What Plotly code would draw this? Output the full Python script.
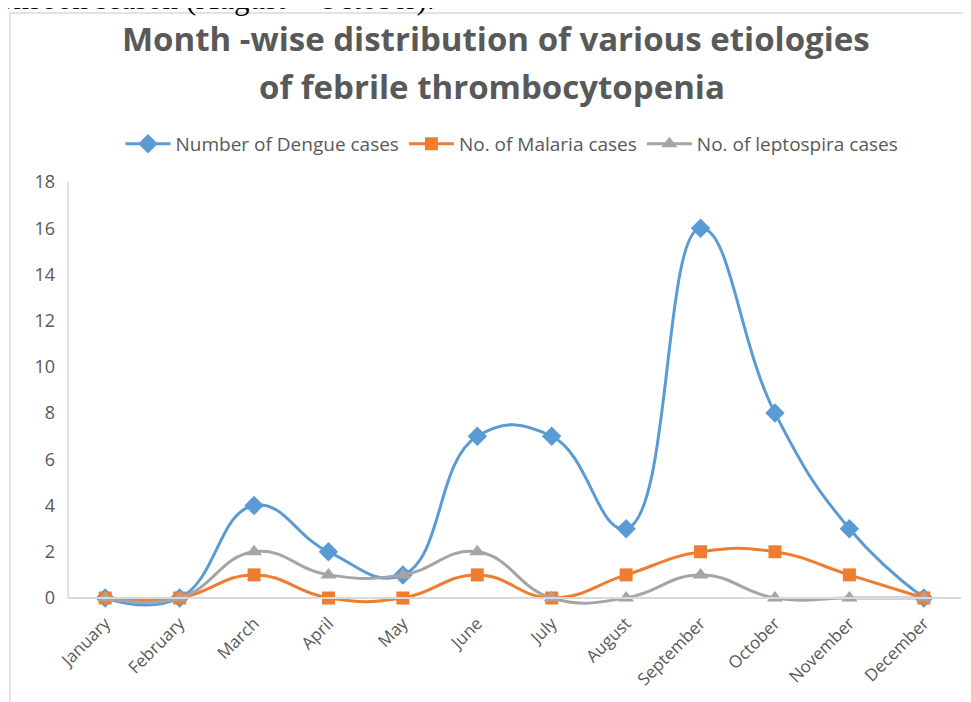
import plotly.graph_objects as go

months = ["January", "February", "March", "April", "May", "June", "July",
          "August", "September", "October", "November", "December"]
dengue = [0, 0, 4, 2, 1, 7, 7, 3, 16, 8, 3, 0]
malaria = [0, 0, 1, 0, 0, 1, 0, 1, 2, 2, 1, 0]
lepto = [0, 0, 2, 1, 1, 2, 0, 0, 1, 0, 0, 0]
y_ticks = [0, 2, 4, 6, 8, 10, 12, 14, 16, 18]

OFF = 8  # default page body margin
W, H = 971 - OFF, 702 - OFF
L, T = 68 - OFF, 182 - OFF
pw = 893
UNIT_PX = 416 / 18.0          # pixels per y unit (0 at page 598, 18 at page 182)
EXTRA = 10                    # pixels of plot area below the zero line
ph = 416 + EXTRA
R = W - L - pw
B = H - T - ph
YMIN = -EXTRA / UNIT_PX


def px_x(p):
    return (p - OFF - L) / pw


def px_y(p):
    return (H - B - (p - OFF)) / ph


fig = go.Figure()
series = [
    ("Number of Dengue cases", dengue, "#5B9BD5", "diamond", 15),
    ("No. of Malaria cases", malaria, "#ED7D31", "square", 13),
    ("No. of leptospira cases", lepto, "#A5A5A5", "triangle-up", 14),
]
for name, vals, col, sym, ms in series:
    fig.add_trace(go.Scatter(
        x=months, y=vals, name=name, mode="lines+markers",
        line=dict(color=col, width=3, shape="spline", smoothing=1.3),
        marker=dict(symbol=sym, size=ms, color=col),
        cliponaxis=False,
    ))

fig.update_layout(
    width=W, height=H,
    margin=dict(l=L, r=R, t=T, b=B, autoexpand=False),
    paper_bgcolor="white", plot_bgcolor="white",
    font=dict(family="Open Sans", color="#595959"),
    legend=dict(
        orientation="h", x=px_x(512), xanchor="center",
        y=px_y(144), yanchor="middle",
        font=dict(size=19, color="#595959"),
        itemwidth=45, traceorder="normal",
    ),
    xaxis=dict(
        type="category", tickangle=-45, showgrid=False,
        showline=True, linecolor="#D9D9D9", linewidth=1.5,
        tickfont=dict(size=17, color="#595959"), ticks="",
        ticklabelstandoff=8,
        range=[-0.5, 11.5],
        anchor="free", position=px_y(598),
    ),
    yaxis=dict(
        range=[YMIN, 18], tickvals=y_ticks, showgrid=False, zeroline=False,
        showline=False,
        tickfont=dict(size=18, color="#595959"), ticks="",
        ticklabelstandoff=12,
    ),
    showlegend=True,
)

# vertical axis line from 0 to 18
fig.add_shape(type="line", xref="paper", yref="y",
              x0=0, x1=0, y0=0, y1=18,
              line=dict(color="#D9D9D9", width=1.5), layer="below")

# chart frame
fig.add_shape(type="rect", xref="paper", yref="paper",
              x0=px_x(10), x1=px_x(985), y0=px_y(720), y1=px_y(13),
              line=dict(color="#D9D9D9", width=1.5), fillcolor="rgba(0,0,0,0)",
              layer="below")

# title, two lines
fig.add_annotation(
    text="<b>Month -wise distribution of various etiologies</b>",
    xref="paper", yref="paper", x=px_x(496), y=px_y(39),
    xanchor="center", yanchor="middle", showarrow=False,
    font=dict(family="Open Sans", size=33, color="#595959"),
)
fig.add_annotation(
    text="<b>of febrile thrombocytopenia</b>",
    xref="paper", yref="paper", x=px_x(492), y=px_y(86),
    xanchor="center", yanchor="middle", showarrow=False,
    font=dict(family="Open Sans", size=33, color="#595959"),
)

# clipped document text above the chart
fig.add_annotation(
    text="monsoon season (August \u2013 October).",
    xref="paper", yref="paper", x=px_x(437), y=px_y(18),
    xanchor="right", yanchor="bottom", showarrow=False,
    font=dict(family="Liberation Serif", size=31, color="black"),
)

fig.write_html("out.html")
